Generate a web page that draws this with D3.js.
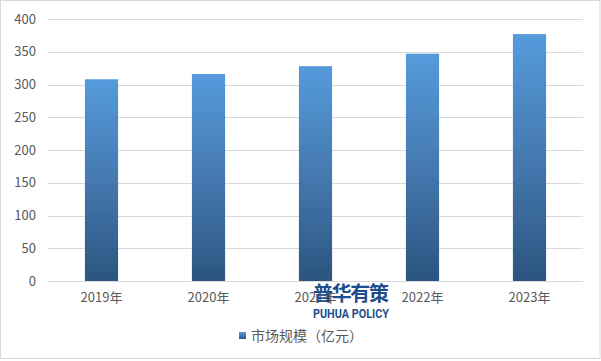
<!DOCTYPE html>
<html><head><meta charset="utf-8">
<script src="https://cdn.jsdelivr.net/npm/d3@7"></script>
<style>body{margin:0;background:#fff}svg{display:block}</style>
</head><body>
<script>
const categories = ["2019年","2020年","2021年","2022年","2023年"];
const values = [308, 316, 328, 347, 377];
const yTicks = [0,50,100,150,200,250,300,350,400];
const seriesName = "市场规模（亿元）";

const W = 601, H = 361;
const margin = {left:48, right:18, top:19, bottom:80};
const font = "'Noto Sans CJK SC','Microsoft YaHei',sans-serif";

const svg = d3.select("body").append("svg").attr("width", W).attr("height", H);
svg.append("rect").attr("x",0.5).attr("y",0.5).attr("width",W-1.5).attr("height",H-3)
  .attr("fill","#fff").attr("stroke","#d9d9d9");

const defs = svg.append("defs");
const g = defs.append("linearGradient").attr("id","barGrad").attr("x1",0).attr("y1",0).attr("x2",0).attr("y2",1);
g.append("stop").attr("offset","0%").attr("stop-color","#559bdc");
g.append("stop").attr("offset","50%").attr("stop-color","#4579b0");
g.append("stop").attr("offset","100%").attr("stop-color","#2c5580");

const x = d3.scaleBand().domain(categories).range([48, 583]).paddingInner(0.69).paddingOuter(0.345);
const y = d3.scaleLinear().domain([0,400]).range([281, 19]);

// gridlines
svg.append("g").selectAll("line").data(yTicks).join("line")
  .attr("x1",48).attr("x2",583).attr("y1",d=>Math.round(y(d))+0.5).attr("y2",d=>Math.round(y(d))+0.5)
  .attr("stroke","#d9d9d9").attr("stroke-width",1);

// y axis labels
const yAxis = svg.append("g").attr("transform","translate(48,0)")
  .call(d3.axisLeft(y).tickValues(yTicks).tickSize(0).tickPadding(12));
yAxis.select(".domain").remove();
yAxis.selectAll("text").attr("font-family",font).attr("font-size",13).attr("fill","#595959");

// bars
svg.append("g").selectAll("rect").data(values).join("rect")
  .attr("x",(d,i)=>x(categories[i])).attr("width",x.bandwidth())
  .attr("y",d=>y(d)).attr("height",d=>y(0)-y(d))
  .attr("fill","url(#barGrad)");

// x axis
const xAxis = svg.append("g").attr("transform","translate(0,281)")
  .call(d3.axisBottom(x).tickSize(0).tickPadding(12));
xAxis.select(".domain").remove();
xAxis.selectAll("text").attr("font-family",font).attr("font-size",13).attr("fill","#595959");

// legend
const lg = svg.append("g");
lg.append("rect").attr("x",239).attr("y",332).attr("width",7).attr("height",7).attr("fill","url(#barGrad)");
lg.append("text").attr("x",251).attr("y",341).attr("font-family",font).attr("font-size",14)
  .attr("fill","#595959").text(seriesName);

// watermark
const wm = svg.append("g");
wm.append("text").attr("x",351).attr("y",301).attr("text-anchor","middle")
  .attr("font-family",font).attr("font-weight","bold").attr("font-size",20).attr("fill","#1f4e8c")
  .attr("textLength",76).text("普华有策");
wm.append("text").attr("x",351).attr("y",318).attr("text-anchor","middle")
  .attr("font-family","'Roboto','Liberation Sans',sans-serif").attr("font-weight","bold").attr("font-size",12).attr("fill","#1f4e8c")
  .attr("textLength",76).attr("lengthAdjust","spacingAndGlyphs").text("PUHUA POLICY");
</script>
</body></html>
